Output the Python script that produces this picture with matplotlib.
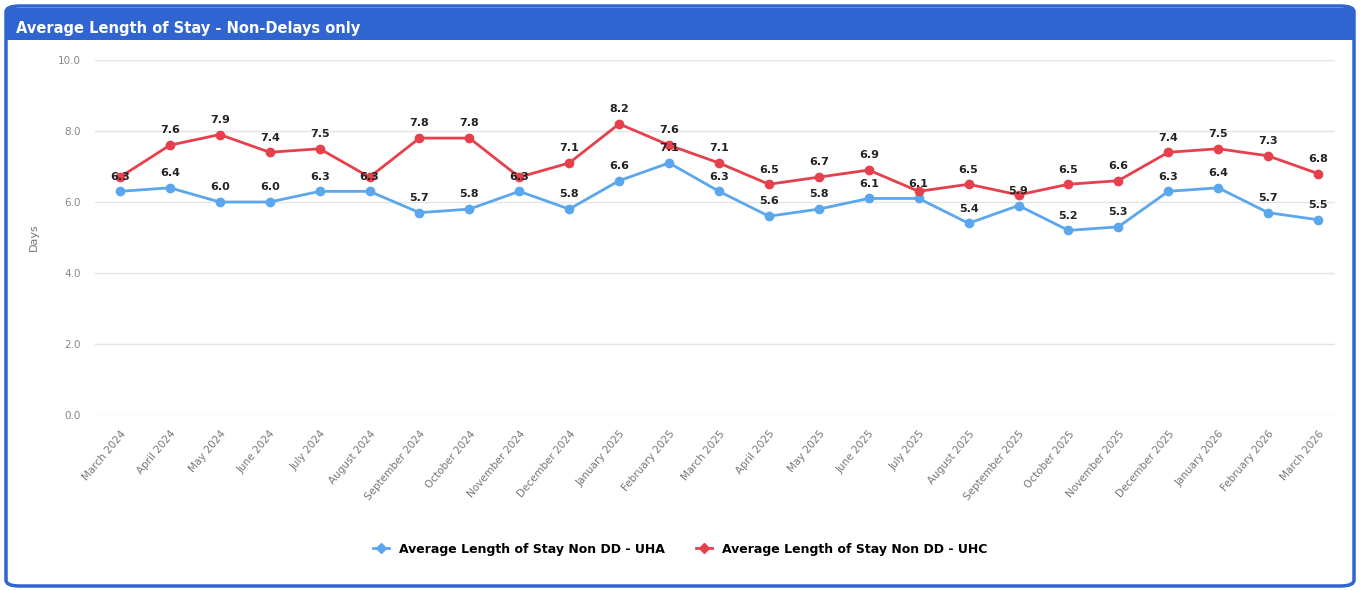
import numpy as np
import matplotlib
matplotlib.use("Agg")
import matplotlib.pyplot as plt
from matplotlib.patches import FancyBboxPatch, Rectangle
from matplotlib.lines import Line2D

months = ["March 2024", "April 2024", "May 2024", "June 2024", "July 2024",
          "August 2024", "September 2024", "October 2024", "November 2024",
          "December 2024", "January 2025", "February 2025", "March 2025",
          "April 2025", "May 2025", "June 2025", "July 2025", "August 2025",
          "September 2025", "October 2025", "November 2025", "December 2025",
          "January 2026", "February 2026", "March 2026"]
uha = [6.3, 6.4, 6.0, 6.0, 6.3, 6.3, 5.7, 5.8, 6.3, 5.8, 6.6, 7.1, 6.3,
       5.6, 5.8, 6.1, 6.1, 5.4, 5.9, 5.2, 5.3, 6.3, 6.4, 5.7, 5.5]
uhc = [6.7, 7.6, 7.9, 7.4, 7.5, 6.7, 7.8, 7.8, 6.7, 7.1, 8.2, 7.6, 7.1,
       6.5, 6.7, 6.9, 6.3, 6.5, 6.2, 6.5, 6.6, 7.4, 7.5, 7.3, 6.8]
yticks = [0, 2, 4, 6, 8, 10]

title = "Average Length of Stay - Non-Delays only"
name_uha = "Average Length of Stay Non DD - UHA"
name_uhc = "Average Length of Stay Non DD - UHC"

BLUE = "#5ba7ee"
RED = "#e5404b"
FRAME = "#3064d0"

W, H = 1360, 590
fig = plt.figure(figsize=(W / 100, H / 100), dpi=100)

# outer frame and title bar
fig.patches.append(FancyBboxPatch((6 / W, 4 / H), 1348 / W, 580 / H,
                                  boxstyle="round,pad=0,rounding_size=0.01",
                                  transform=fig.transFigure, facecolor="white",
                                  edgecolor=FRAME, linewidth=2.5, zorder=-2))
fig.patches.append(Rectangle((6 / W, 550 / H), 1348 / W, 32 / H,
                             transform=fig.transFigure, facecolor=FRAME,
                             edgecolor=FRAME, linewidth=0, zorder=-1))
fig.text(16 / W, 1 - 28 / H, title, color="white", fontsize=10.5,
         fontweight="bold", va="center", ha="left")

ax = fig.add_axes([95 / W, 1 - 415 / H, 1240 / W, 355 / H])
ax.set_zorder(3)
ax.set_facecolor("none")
x = np.arange(len(months))

ax.plot(x, uha, color=BLUE, lw=2, marker="o", ms=6, zorder=3)
ax.plot(x, uhc, color=RED, lw=2, marker="o", ms=6, zorder=3)

for i in x:
    ax.annotate(f"{uha[i]:.1f}", (i, uha[i]), xytext=(0, 7),
                textcoords="offset points", ha="center", va="bottom",
                fontsize=8, fontweight="bold", color="#222222", zorder=5)
    # hide red label when it would collide with the blue one
    if uhc[i] - uha[i] >= 0.5:
        ax.annotate(f"{uhc[i]:.1f}", (i, uhc[i]), xytext=(0, 7),
                    textcoords="offset points", ha="center", va="bottom",
                    fontsize=8, fontweight="bold", color="#222222", zorder=5)

ax.set_xlim(-0.5, 24.34)
ax.set_ylim(0, 10)
ax.set_yticks(yticks)
ax.set_yticklabels([f"{v:.1f}" for v in yticks], fontsize=7.5, color="#888888")
ax.set_xticks(x)
ax.set_xticklabels(months, rotation=50, ha="right", rotation_mode="anchor",
                   fontsize=7.5, color="#777777")
ax.tick_params(length=0, pad=10)
ax.grid(axis="y", color="#e4e4e4", lw=1)
for s in ax.spines.values():
    s.set_visible(False)
ax.set_ylabel("Days", fontsize=8, color="#777777", labelpad=14)

handles = [Line2D([], [], color=BLUE, lw=2, marker="D", ms=5),
           Line2D([], [], color=RED, lw=2, marker="D", ms=5)]
fig.legend(handles, [name_uha, name_uhc], loc="center",
           bbox_to_anchor=(0.5, 1 - 549 / H), ncol=2, frameon=False,
           handlelength=1.3, columnspacing=2.5,
           prop={"size": 9, "weight": "bold"})

fig.savefig("out.png", dpi=100)
